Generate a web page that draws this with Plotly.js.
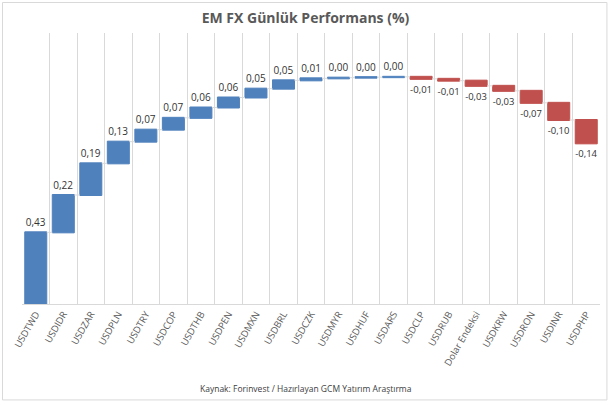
<!DOCTYPE html>
<html>
<head>
<meta charset="utf-8">
<script src="https://cdn.plot.ly/plotly-3.0.1.min.js"></script>
<style>
  html, body { margin: 0; padding: 0; background: #fff; }
  #plot { width: 611px; height: 405px; }
</style>
</head>
<body>
<div id="plot"></div>
<script>
var categories = ['USDTWD', 'USDIDR', 'USDZAR', 'USDPLN', 'USDTRY', 'USDCOP', 'USDTHB',
    'USDPEN', 'USDMXN', 'USDBRL', 'USDCZK', 'USDMYR', 'USDHUF', 'USDARS', 'USDCLP',
    'USDRUB', 'Dolar Endeksi', 'USDKRW', 'USDRON', 'USDINR', 'USDPHP'];

// günlük değişim (%)
var values = [0.43, 0.224, 0.19, 0.13, 0.072, 0.071, 0.062, 0.06, 0.053, 0.05, 0.012,
    0.004, 0.003, 0.002, -0.012, -0.011, -0.031, -0.03, -0.072, -0.103, -0.14];

var labels = values.map(function (v) {
    return v.toFixed(2).replace('.', ',');
});

var measures = values.map(function () { return 'relative'; });

var trace = {
    type: 'waterfall',
    x: categories,
    y: values,
    measure: measures,
    text: labels,
    textposition: 'outside',
    textfont: { family: 'Open Sans', size: 10, color: '#333333' },
    cliponaxis: false,
    hoverinfo: 'x+text',
    increasing: { marker: { color: '#4F81BD', line: { color: '#4F81BD', width: 1 } } },
    decreasing: { marker: { color: '#C0504D', line: { color: '#C0504D', width: 1 } } },
    connector: { mode: 'between', line: { color: '#d9d9d9', width: 1 } }
};

var layout = {
    width: 611,
    height: 405,
    margin: { l: 22, r: 11, t: 33, b: 101 },
    paper_bgcolor: '#fff',
    plot_bgcolor: '#fff',
    showlegend: false,
    bargap: 0.33,
    title: {
        text: '<b>EM FX Günlük Performans (%)</b>',
        font: { family: 'Open Sans', size: 14, color: '#595959' },
        x: 0.5,
        xanchor: 'center',
        y: 0.955,
        yanchor: 'middle'
    },
    xaxis: {
        type: 'category',
        tickson: 'boundaries',
        showgrid: true,
        gridcolor: '#d9d9d9',
        gridwidth: 1,
        showline: true,
        linecolor: '#d9d9d9',
        ticks: '',
        tickangle: -60,
        tickfont: { family: 'Open Sans', size: 9.5, color: '#595959' },
        fixedrange: true
    },
    yaxis: {
        range: [0, 1.626],
        visible: false,
        fixedrange: true
    },
    annotations: [{
        text: 'Kaynak: Forinvest / Hazırlayan GCM Yatırım Araştırma',
        xref: 'paper', yref: 'paper',
        x: 0.492, y: -0.31,
        xanchor: 'center', yanchor: 'middle',
        showarrow: false,
        font: { family: 'Open Sans', size: 8.5, color: '#404040' }
    }],
    shapes: [{
        type: 'rect',
        xref: 'paper', yref: 'paper',
        x0: -0.0337, x1: 1.012, y0: -0.354, y1: 1.1125,
        line: { color: '#d9d9d9', width: 1 },
        fillcolor: 'rgba(0,0,0,0)',
        layer: 'below'
    }]
};

Plotly.newPlot('plot', [trace], layout, { displayModeBar: false, staticPlot: true });
</script>
</body>
</html>
